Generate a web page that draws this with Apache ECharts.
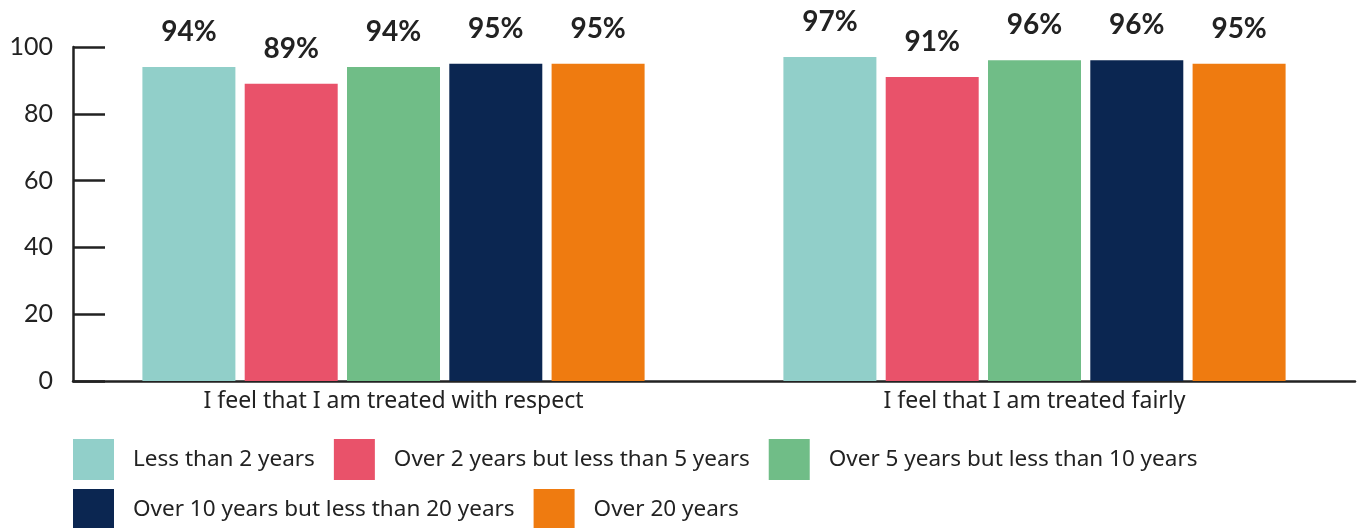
<!DOCTYPE html>
<html>
<head>
<meta charset="utf-8">
<script src="https://cdn.jsdelivr.net/npm/echarts@6/dist/echarts.min.js"></script>
<style>
  html, body { margin: 0; padding: 0; background: #fff; }
  #chart { width: 1363px; height: 528px; }
</style>
</head>
<body>
<div id="chart"></div>
<script>
// Survey statements (x categories)
const categories = ['I feel that I am treated with respect', 'I feel that I am treated fairly'];

// Length-of-service groups and their agreement percentages
const seriesNames = [
  'Less than 2 years',
  'Over 2 years but less than 5 years',
  'Over 5 years but less than 10 years',
  'Over 10 years but less than 20 years',
  'Over 20 years'
];
const lessThan2 = [94, 97];
const over2to5 = [89, 91];
const over5to10 = [94, 96];
const over10to20 = [95, 96];
const over20 = [95, 95];

const colors = ['#91cfc9', '#e9526a', '#70bd87', '#0b2651', '#ef7b10'];
const seriesData = [lessThan2, over2to5, over5to10, over10to20, over20];

const FONT = '"Noto Sans", Lato, sans-serif';
const INK = '#222222';

// Two legend rows laid out explicitly
function legendRow(top, names) {
  return {
    left: 73,
    top,
    padding: 0,
    itemWidth: 41,
    itemHeight: 41,
    itemGap: 19,
    icon: 'rect',
    textStyle: { fontFamily: FONT, fontSize: 22.5, color: INK, padding: [0, 0, 0, 14] },
    data: names
  };
}

const chart = echarts.init(document.getElementById('chart'));
chart.setOption({
  animation: false,
  textStyle: { fontFamily: FONT, color: INK },
  grid: { left: 73, right: 8, top: 47, bottom: 147, containLabel: false },
  legend: [
    legendRow(439, seriesNames.slice(0, 3)),
    legendRow(489, seriesNames.slice(3))
  ],
  xAxis: {
    type: 'category',
    data: categories,
    axisLine: { lineStyle: { color: INK, width: 2.5 } },
    axisTick: { inside: true, length: 8, lineStyle: { color: INK, width: 2.5 } },
    axisLabel: { fontFamily: FONT, fontSize: 23, color: INK, margin: 9 }
  },
  yAxis: {
    type: 'value',
    min: 0,
    max: 100,
    interval: 20,
    splitLine: { show: false },
    axisLine: { show: true, lineStyle: { color: INK, width: 2.5 } },
    axisTick: { show: true, inside: true, length: 32, lineStyle: { color: INK, width: 2.5 } },
    axisLabel: { fontFamily: 'Lato, sans-serif', fontSize: 25, color: INK, margin: 20 }
  },
  series: seriesNames.map((name, i) => ({
    name,
    type: 'bar',
    data: seriesData[i],
    barWidth: 93,
    barGap: '10%',
    itemStyle: { color: colors[i] },
    label: {
      show: true,
      position: 'top',
      distance: 21,
      formatter: '{c}%',
      fontFamily: 'Lato, sans-serif',
      fontWeight: 'bold',
      fontSize: 28,
      color: INK
    }
  }))
});
</script>
</body>
</html>
